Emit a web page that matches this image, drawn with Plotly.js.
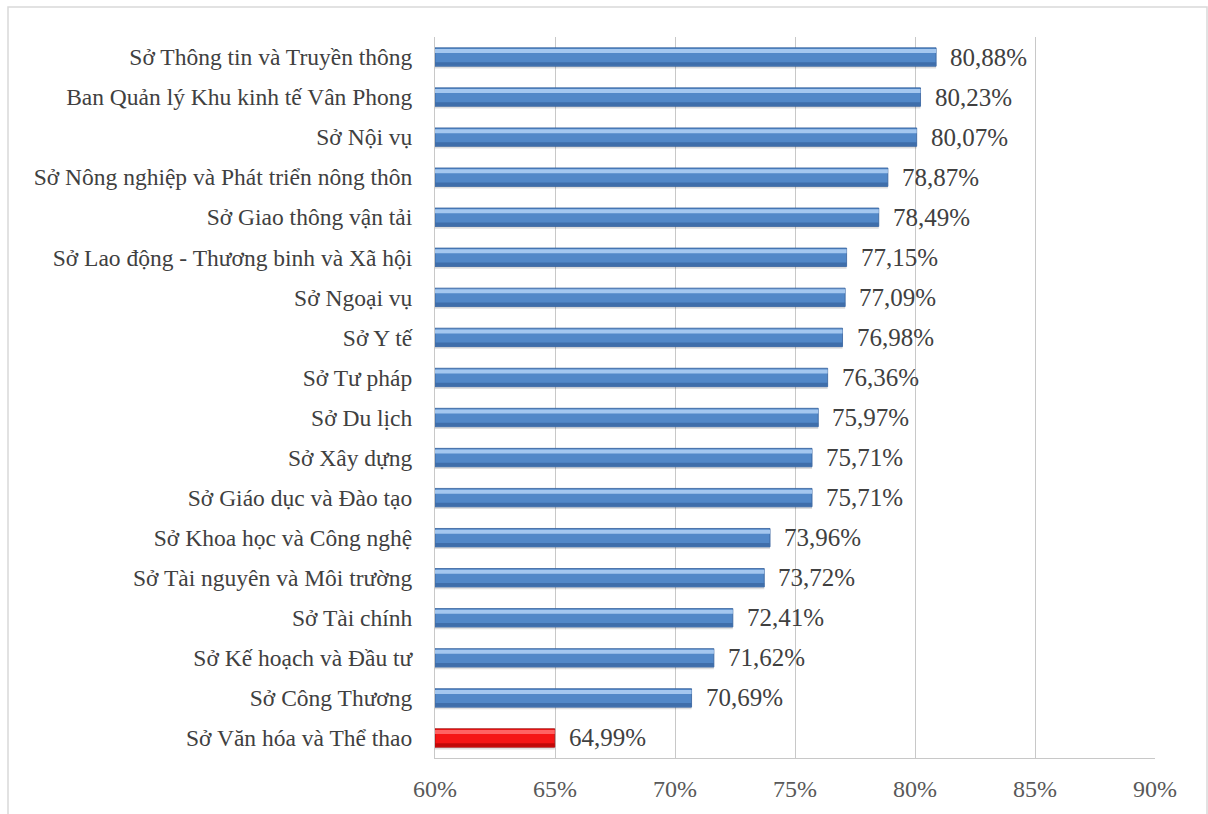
<!DOCTYPE html>
<html>
<head>
<meta charset="utf-8">
<script src="https://cdn.plot.ly/plotly-3.0.1.min.js"></script>
<style>html,body{margin:0;padding:0;background:#fff;}#chart{width:1208px;height:814px;}</style>
</head>
<body>
<div id="chart"></div>
<script>
const categories = [
  "Sở Thông tin và Truyền thông",
  "Ban Quản lý Khu kinh tế Vân Phong",
  "Sở Nội vụ",
  "Sở Nông nghiệp và Phát triển nông thôn",
  "Sở Giao thông vận tải",
  "Sở Lao động - Thương binh và Xã hội",
  "Sở Ngoại vụ",
  "Sở Y tế",
  "Sở Tư pháp",
  "Sở Du lịch",
  "Sở Xây dựng",
  "Sở Giáo dục và Đào tạo",
  "Sở Khoa học và Công nghệ",
  "Sở Tài nguyên và Môi trường",
  "Sở Tài chính",
  "Sở Kế hoạch và Đầu tư",
  "Sở Công Thương",
  "Sở Văn hóa và Thể thao"
];
const values = [80.88, 80.23, 80.07, 78.87, 78.49, 77.15, 77.09, 76.98, 76.36, 75.97, 75.71, 75.71, 73.96, 73.72, 72.41, 71.62, 70.69, 64.99];
const tickVals = [60, 65, 70, 75, 80, 85, 90];
const tickText = ["60%", "65%", "70%", "75%", "80%", "85%", "90%"];

const base = 60;
const lengths = values.map(v => v - base);
const isLast = values.map((v, i) => i === values.length - 1);
const mainColors = isLast.map(l => l ? "#f51515" : "#5288c8");
const lineColors = isLast.map(l => l ? "#9a0c0c" : "#35609a");
const hiColors = isLast.map(l => l ? "#ff6262" : "#a4c7ef");
const shadeColors = isLast.map(l => l ? "#c00808" : "#3f6eaa");
const label = v => v.toFixed(2).replace(".", ",") + "%";
const serif = "Liberation Serif, Times New Roman, serif";

const traces = [
  {
    type: "bar", orientation: "h", y: categories, x: lengths, base: base,
    width: 0.07, offset: 0.215,
    marker: {color: "rgba(0,0,0,0.13)", line: {width: 0}},
    hoverinfo: "skip", showlegend: false
  },
  {
    type: "bar", orientation: "h", y: categories, x: lengths, base: base,
    width: 0.46,
    marker: {color: mainColors, line: {color: lineColors, width: 0.8}},
    hoverinfo: "skip", showlegend: false
  },
  {
    type: "bar", orientation: "h", y: categories, x: lengths, base: base,
    width: 0.1, offset: -0.2,
    marker: {color: hiColors, line: {width: 0}},
    hoverinfo: "skip", showlegend: false
  },
  {
    type: "bar", orientation: "h", y: categories, x: lengths, base: base,
    width: 0.09, offset: 0.13,
    marker: {color: shadeColors, line: {width: 0}},
    hoverinfo: "skip", showlegend: false
  }
];

const annotations = categories.map((c, i) => ({
  x: values[i], y: c, xref: "x", yref: "y",
  text: label(values[i]), showarrow: false,
  xanchor: "left", yanchor: "middle", xshift: 12, yshift: 0,
  font: {family: serif, size: 25, color: "#404040"}
}));

const layout = {
  width: 1208, height: 814,
  margin: {l: 435, r: 53, t: 37, b: 56},
  paper_bgcolor: "#ffffff", plot_bgcolor: "#ffffff",
  barmode: "overlay",
  font: {family: serif, color: "#404040"},
  xaxis: {
    range: [60, 90], tickvals: tickVals, ticktext: tickText,
    showgrid: true, gridcolor: "#c8c8c8", gridwidth: 1,
    zeroline: false, showline: true, linecolor: "#c8c8c8", linewidth: 1,
    ticks: "", ticklabelstandoff: 9,
    tickfont: {family: serif, size: 24, color: "#595959"},
    fixedrange: true
  },
  yaxis: {
    type: "category", autorange: "reversed",
    showgrid: false, zeroline: false, showline: true, linecolor: "#c8c8c8", linewidth: 1,
    ticks: "", ticklabelstandoff: 17,
    tickfont: {family: serif, size: 23.5, color: "#404040"},
    fixedrange: true
  },
  annotations: annotations,
  shapes: [
    {type: "rect", xref: "paper", yref: "paper",
     x0: (8 - 435) / 720, x1: (1207 - 435) / 720,
     y0: (758 - 830) / 721, y1: (758 - 7) / 721,
     line: {color: "#d9d9d9", width: 1.5}, fillcolor: "rgba(0,0,0,0)", layer: "below"}
  ]
};

Plotly.newPlot("chart", traces, layout, {displayModeBar: false, staticPlot: true});
</script>
</body>
</html>
